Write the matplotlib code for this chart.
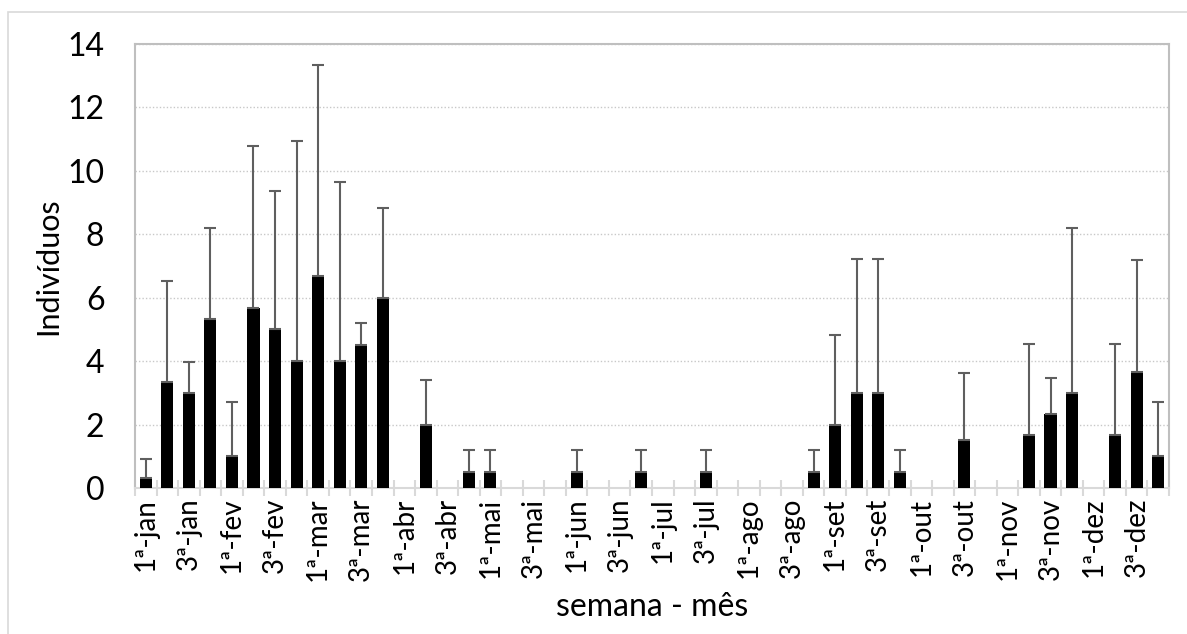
import matplotlib.pyplot as plt
import numpy as np
from matplotlib.patches import Rectangle

months = ["jan", "fev", "mar", "abr", "mai", "jun",
          "jul", "ago", "set", "out", "nov", "dez"]
weeks = [f"{w}ª-{m}" for m in months for w in (1, 2, 3, 4)]

# mean individuals per week
means = [0.33, 3.34, 3.0, 5.34, 1.0, 5.68, 5.0, 4.0, 6.67, 4.0, 4.51, 6.0,
         0, 2.0, 0, 0.5, 0.5, 0, 0, 0, 0.5, 0, 0, 0.5,
         0, 0, 0.5, 0, 0, 0, 0, 0.5, 2.0, 3.0, 3.0, 0.5,
         0, 0, 1.5, 0, 0, 1.66, 2.33, 3.0, 0, 1.66, 3.67, 1.0]
# upper end of the error bar
upper = [0.9, 6.54, 3.98, 8.2, 2.72, 10.79, 9.35, 10.93, 13.33, 9.65, 5.2, 8.82,
         0, 3.42, 0, 1.2, 1.2, 0, 0, 0, 1.2, 0, 0, 1.2,
         0, 0, 1.2, 0, 0, 0, 0, 1.2, 4.83, 7.22, 7.22, 1.2,
         0, 0, 3.62, 0, 0, 4.55, 3.48, 8.2, 0, 4.55, 7.18, 2.72]


def main():
    plt.rcParams['font.family'] = ['Lato', 'DejaVu Sans']
    fig = plt.figure(figsize=(11.87, 6.34), dpi=100)
    ax = fig.add_axes([135 / 1187, 1 - 488 / 634, 1034 / 1187, 444 / 634])

    # outer chart frame
    fig.patches.append(Rectangle((8 / 1187, -0.1), 1.2, 1 - 12 / 634 + 0.1,
                                 transform=fig.transFigure, fill=False,
                                 edgecolor="#d9d9d9", linewidth=1.2))

    x = np.arange(len(weeks))
    m = np.array(means)
    up = np.array(upper)
    has = up > 0
    ax.bar(x, m, width=0.56, color="black", zorder=3)
    ax.errorbar(x[has], m[has], yerr=[np.zeros(has.sum()), (up - m)[has]],
                fmt="none", ecolor="#5f5f5f", elinewidth=1.5, capsize=4.5,
                capthick=1.5, zorder=4)

    ax.set_xlim(-0.5, len(weeks) - 0.5)
    ax.set_ylim(0, 14)
    ax.set_yticks(range(0, 15, 2))
    ax.yaxis.grid(True, linestyle=(0, (1, 1.5)), color="#c8c8c8", linewidth=1)
    ax.set_axisbelow(True)

    ax.set_xticks(x[::2])
    ax.set_xticklabels(weeks[::2], rotation=90, fontsize=20)
    ax.set_xticks(np.arange(-0.5, len(weeks), 1), minor=True)
    ax.tick_params(axis="x", which="major", length=0, pad=7)
    ax.tick_params(axis="x", which="minor", length=12, direction="inout",
                   color="#d9d9d9", width=1.5)
    ax.tick_params(axis="y", length=0, labelsize=23, pad=22)

    for side in ["left", "right", "top"]:
        ax.spines[side].set_color("#bfbfbf")
        ax.spines[side].set_linewidth(1.5)
    ax.spines["bottom"].set_color("#d9d9d9")
    ax.spines["bottom"].set_linewidth(1.5)

    ax.set_ylabel("Indivíduos", fontsize=22, labelpad=4)
    ax.set_xlabel("semana - mês", fontsize=23, labelpad=8)

    fig.savefig("out.png", dpi=100)


if __name__ == "__main__":
    main()
